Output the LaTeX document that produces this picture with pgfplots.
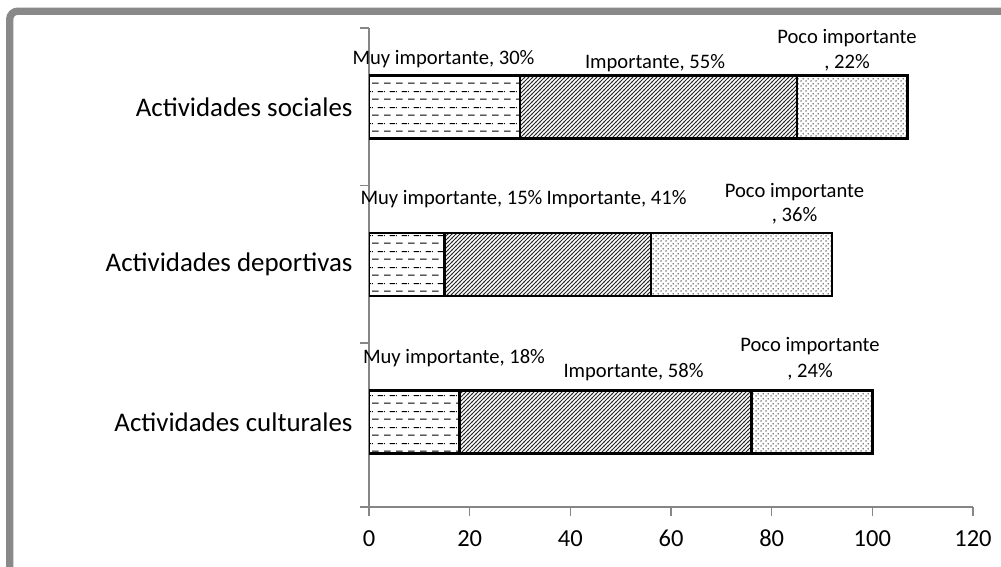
\documentclass[border=0pt]{standalone}
\usepackage{fontspec}
\setmainfont{Carlito}
\usepackage{pgfplots}
\pgfplotsset{compat=1.18}
\usetikzlibrary{patterns.meta}
\definecolor{axisgray}{HTML}{868686}
\definecolor{framegray}{HTML}{898989}
\pgfdeclarepattern{
  name=dashh, type=uncolored,
  bottom left={\pgfpoint{0pt}{0pt}},
  top right={\pgfpoint{12pt}{16pt}},
  tile size={\pgfpoint{12pt}{16pt}},
  code={
    \pgfsetlinewidth{1.1pt}
    \pgfpathmoveto{\pgfpoint{0pt}{4pt}}\pgfpathlineto{\pgfpoint{7pt}{4pt}}
    \pgfpathmoveto{\pgfpoint{6pt}{12pt}}\pgfpathlineto{\pgfpoint{12pt}{12pt}}
    \pgfpathmoveto{\pgfpoint{0pt}{12pt}}\pgfpathlineto{\pgfpoint{1pt}{12pt}}
    \pgfusepath{stroke}
  }
}
\pgfdeclarepattern{
  name=diagl, type=uncolored,
  bottom left={\pgfpoint{-0.5pt}{-0.5pt}},
  top right={\pgfpoint{4.5pt}{4.5pt}},
  tile size={\pgfpoint{4pt}{4pt}},
  code={
    \pgfsetlinewidth{1.0pt}
    \pgfpathmoveto{\pgfpoint{-0.5pt}{-0.5pt}}\pgfpathlineto{\pgfpoint{4.5pt}{4.5pt}}
    \pgfusepath{stroke}
  }
}
\pgfdeclarepattern{
  name=dotsp, type=uncolored,
  bottom left={\pgfpoint{0pt}{0pt}},
  top right={\pgfpoint{5pt}{5pt}},
  tile size={\pgfpoint{5pt}{5pt}},
  code={
    \pgfpathcircle{\pgfpoint{1.25pt}{1.25pt}}{0.8pt}
    \pgfpathcircle{\pgfpoint{3.75pt}{3.75pt}}{0.8pt}
    \pgfusepath{fill}
  }
}
\newcommand{\lbl}{\fontsize{20.6}{24}\selectfont}
\begin{document}
\begin{tikzpicture}
\useasboundingbox (0pt,0pt) rectangle (1001pt,-566pt);
\draw[framegray, line width=7.3pt, rounded corners=8pt] (9.7pt,-11.2pt) rectangle (1040pt,-610pt);
\begin{axis}[
  at={(369pt,-507pt)}, anchor=south west,
  scale only axis, width=604pt, height=479pt,
  xmin=0, xmax=120, ymin=-0.54, ymax=2.5,
  xbar stacked, bar width=63pt,
  axis lines*=left,
  axis line style={draw=axisgray, line width=1.3pt},
  tick style={draw=axisgray, line width=1.3pt},
  tick align=outside, major tick length=9pt,
  xtick={0,20,...,120},
  ytick={-0.54,0.5,1.5,2.5}, yticklabels={},
  extra y ticks={0,1,2},
  extra y tick labels={Actividades culturales,Actividades deportivas,Actividades sociales},
  extra y tick style={major tick length=0pt, tick style={draw=none}, yticklabel style={xshift=-13pt, font=\fontsize{26.9}{31}\selectfont}},
  tick label style={font=\fontsize{24.5}{29}\selectfont, text=black},
  xticklabel style={anchor=north, text height=17pt, text depth=0pt, yshift=-10pt},
  /pgf/number format/assume math mode=true,
]
\addplot[draw=black, line width=2.5pt, pattern=dashh, pattern color=black] coordinates {(18,0) (15,1) (30,2)};
\addplot[draw=black, line width=2.5pt, pattern=diagl, pattern color=black!85] coordinates {(58,0) (41,1) (55,2)};
\addplot[draw=black, line width=2.5pt, pattern=dotsp, pattern color=black] coordinates {(24,0) (36,1) (22,2)};
\end{axis}
\begin{scope}[every node/.style={anchor=base, inner sep=0pt, font=\lbl}]
\node at (443.5pt,-64pt) {Muy importante, 30\%};
\node at (655pt,-68pt) {Importante, 55\%};
\node at (847pt,-43pt) {Poco importante};
\node at (847pt,-68pt) {, 22\%};
\node at (451.5pt,-204pt) {Muy importante, 15\%};
\node at (616.5pt,-204pt) {Importante, 41\%};
\node at (794.5pt,-197pt) {Poco importante};
\node at (794.5pt,-221pt) {, 36\%};
\node at (454pt,-363pt) {Muy importante, 18\%};
\node at (633.5pt,-377pt) {Importante, 58\%};
\node at (810pt,-351pt) {Poco importante};
\node at (810pt,-377pt) {, 24\%};
\end{scope}
\end{tikzpicture}
\end{document}
